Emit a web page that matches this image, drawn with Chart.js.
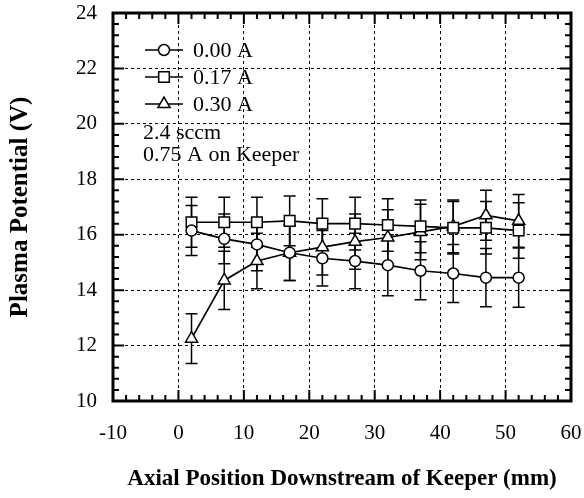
<!DOCTYPE html>
<html>
<head>
<meta charset="utf-8">
<script src="https://cdn.jsdelivr.net/npm/chart.js@4.4.0/dist/chart.umd.min.js"></script>
<style>
  html, body { margin: 0; padding: 0; background: #fff; }
  #wrap { width: 584px; height: 498px; }
</style>
</head>
<body>
<div id="wrap"><canvas id="plasmaChart" width="584" height="498"></canvas></div>
<script>
// axial positions downstream of keeper (mm)
const positions = [2, 7, 12, 17, 22, 27, 32, 37, 42, 47, 52];

// plasma potential (V) for each keeper-offset current
const v000 = [16.15, 15.85, 15.65, 15.35, 15.15, 15.05, 14.9, 14.7, 14.6, 14.45, 14.45];
const v017 = [16.45, 16.45, 16.45, 16.5, 16.4, 16.4, 16.35, 16.3, 16.25, 16.25, 16.15];
const v030 = [12.25, 14.35, 15.05, 15.35, 15.55, 15.75, 15.9, 16.1, 16.3, 16.7, 16.5];

// error bar half widths (V)
const err000 = [0.9, 0.9, 0.95, 1.0, 1.0, 1.0, 1.1, 1.05, 1.05, 1.05, 1.07];
const err017 = [0.9, 0.9, 0.9, 0.9, 0.9, 0.95, 0.95, 0.95, 0.95, 0.95, 1.0];
const err030 = [0.9, 1.05, 1.0, 1.0, 1.0, 1.0, 1.0, 1.0, 0.95, 0.9, 0.95];

const seriesLabels = ['0.00 A', '0.17 A', '0.30 A'];
const seriesStyles = ['circle', 'rect', 'triangle'];
const noteLines = ['2.4 sccm', '0.75 A on Keeper'];

const xTitle = 'Axial Position Downstream of Keeper (mm)';
const yTitle = 'Plasma Potential (V)';

const serif = '"Liberation Serif", "DejaVu Serif", serif';

function toPoints(vals, errs) {
    return positions.map((x, i) => ({ x: x, y: vals[i], err: errs[i] }));
}

function makeSet(label, vals, errs, style, radius) {
    return {
        label: label,
        data: toPoints(vals, errs),
        borderColor: '#000',
        borderWidth: 1.7,
        pointStyle: style,
        pointRadius: radius,
        pointBackgroundColor: '#fff',
        pointBorderColor: '#000',
        pointBorderWidth: 1.5,
        showLine: true,
        tension: 0,
        fill: false
    };
}

// error bars, under the markers
const errorBars = {
    id: 'errorBars',
    beforeDatasetsDraw(chart) {
        const ctx = chart.ctx;
        const xs = chart.scales.x, ys = chart.scales.y;
        ctx.save();
        ctx.strokeStyle = '#000';
        ctx.lineWidth = 1.5;
        chart.data.datasets.forEach(ds => {
            ds.data.forEach(p => {
                const px = xs.getPixelForValue(p.x);
                const top = ys.getPixelForValue(p.y + p.err);
                const bot = ys.getPixelForValue(p.y - p.err);
                ctx.beginPath();
                ctx.moveTo(px, top); ctx.lineTo(px, bot);
                ctx.moveTo(px - 6, top); ctx.lineTo(px + 6, top);
                ctx.moveTo(px - 6, bot); ctx.lineTo(px + 6, bot);
                ctx.stroke();
            });
        });
        ctx.restore();
    }
};

// heavy frame with inward ticks on all four sides
const frameTicks = {
    id: 'frameTicks',
    afterDatasetsDraw(chart) {
        const ctx = chart.ctx;
        const a = chart.chartArea;
        const xs = chart.scales.x, ys = chart.scales.y;
        ctx.save();
        ctx.strokeStyle = '#000';
        ctx.lineWidth = 2;
        ctx.beginPath();
        // x ticks every 2 mm, major every 10
        for (let i = 0; i <= 35; i++) {
            const v = xs.min + i * 2;
            const px = xs.getPixelForValue(v);
            const len = (i % 5 === 0) ? 11 : 6;
            ctx.moveTo(px, a.bottom); ctx.lineTo(px, a.bottom - len);
            ctx.moveTo(px, a.top); ctx.lineTo(px, a.top + len);
        }
        // y ticks every 0.4 V, major every 2
        for (let i = 0; i <= 35; i++) {
            const v = ys.min + i * 0.4;
            const py = ys.getPixelForValue(v);
            const len = (i % 5 === 0) ? 11 : 6;
            ctx.moveTo(a.left, py); ctx.lineTo(a.left + len, py);
            ctx.moveTo(a.right, py); ctx.lineTo(a.right - len, py);
        }
        ctx.stroke();
        ctx.lineWidth = 3;
        ctx.strokeRect(a.left, a.top, a.right - a.left, a.bottom - a.top);
        ctx.restore();
    }
};

// legend with line-through-marker samples plus the run conditions
const sampleLegend = {
    id: 'sampleLegend',
    afterDraw(chart) {
        const ctx = chart.ctx;
        const a = chart.chartArea;
        ctx.save();
        ctx.font = '22px ' + serif;
        ctx.textBaseline = 'middle';
        ctx.fillStyle = '#000';
        chart.data.datasets.forEach((ds, i) => {
            const y = a.top + 37 + i * 27;
            const x0 = a.left + 32;
            ctx.strokeStyle = '#000';
            ctx.lineWidth = 1.5;
            ctx.beginPath();
            ctx.moveTo(x0, y); ctx.lineTo(x0 + 38, y);
            ctx.stroke();
            ctx.fillStyle = '#fff';
            Chart.helpers.drawPoint(ctx, {
                pointStyle: ds.pointStyle,
                radius: ds.pointRadius,
                rotation: 0,
                borderWidth: 1.5
            }, x0 + 19, y);
            ctx.fillStyle = '#000';
            ctx.fillText(ds.label, x0 + 48, y + 1);
        });
        noteLines.forEach((t, i) => {
            ctx.fillText(t, a.left + 30, a.top + 120 + i * 22);
        });
        ctx.restore();
    }
};

const gridStyle = {
    color: '#000',
    lineWidth: 1,
    drawTicks: false
};

new Chart(document.getElementById('plasmaChart'), {
    type: 'scatter',
    data: {
        datasets: [
            makeSet(seriesLabels[0], v000, err000, seriesStyles[0], 5.5),
            makeSet(seriesLabels[1], v017, err017, seriesStyles[1], 7.5),
            makeSet(seriesLabels[2], v030, err030, seriesStyles[2], 7)
        ]
    },
    options: {
        responsive: false,
        animation: false,
        layout: { padding: { top: 13, right: 13, left: 0, bottom: 0 } },
        plugins: {
            legend: { display: false },
            tooltip: { enabled: false }
        },
        scales: {
            x: {
                type: 'linear',
                min: -10,
                max: 60,
                grid: gridStyle,
                border: { display: false, dash: [3, 3] },
                ticks: {
                    stepSize: 10,
                    padding: 20,
                    color: '#000',
                    font: { family: serif, size: 21 }
                },
                title: {
                    display: true,
                    text: xTitle,
                    color: '#000',
                    font: { family: serif, size: 23, weight: 'bold' },
                    padding: { top: 0, bottom: 5 }
                },
                afterFit(scale) {
                    scale.height = 97;
                    scale.paddingLeft = 0;
                    scale.paddingRight = 0;
                }
            },
            y: {
                type: 'linear',
                min: 10,
                max: 24,
                grid: gridStyle,
                border: { display: false, dash: [3, 3] },
                ticks: {
                    stepSize: 2,
                    padding: 16,
                    color: '#000',
                    font: { family: serif, size: 21 }
                },
                title: {
                    display: true,
                    text: yTitle,
                    color: '#000',
                    font: { family: serif, size: 25, weight: 'bold' },
                    padding: { top: 6, bottom: 0 }
                },
                afterFit(scale) {
                    scale.width = 113;
                    scale.paddingTop = 0;
                    scale.paddingBottom = 0;
                }
            }
        }
    },
    plugins: [errorBars, frameTicks, sampleLegend]
});
</script>
</body>
</html>
